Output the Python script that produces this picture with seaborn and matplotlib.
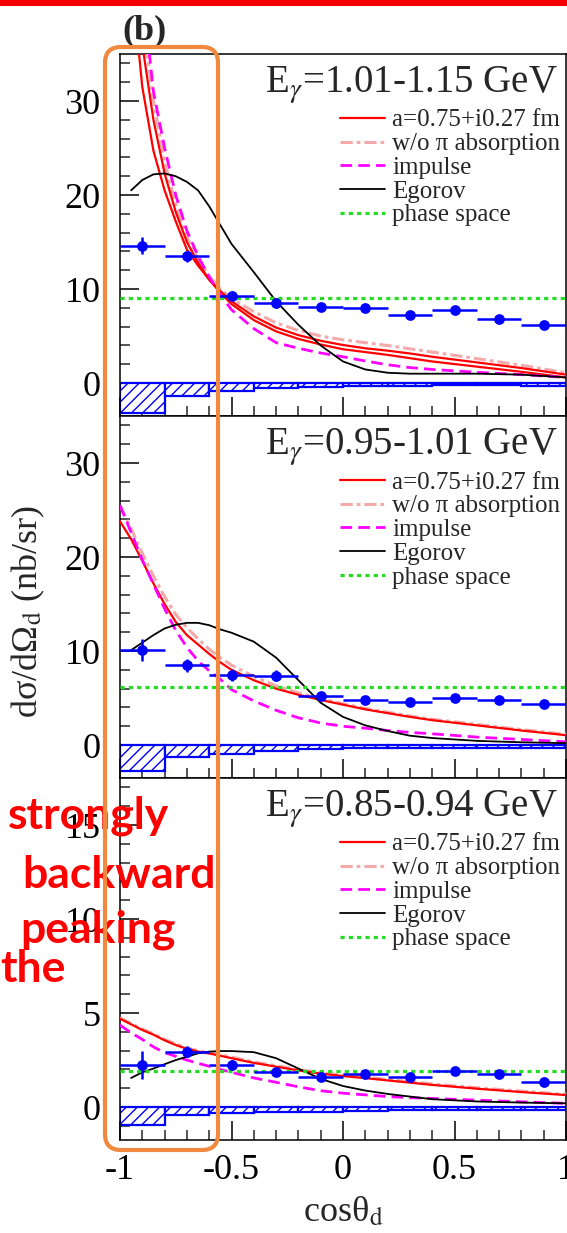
import numpy as np
import pandas as pd
import matplotlib
matplotlib.use("Agg")
import matplotlib.pyplot as plt
import seaborn as sns
from matplotlib.ticker import MultipleLocator
from matplotlib.patches import FancyBboxPatch, Rectangle
from matplotlib.transforms import IdentityTransform

# ---------------- data ----------------
bin_centers = [-0.9, -0.7, -0.5, -0.3, -0.1, 0.1, 0.3, 0.5, 0.7, 0.9]

pts_top = [14.6, 13.5, 9.3, 8.5, 8.1, 8.0, 7.2, 7.8, 6.8, 6.2]
err_top = [0.9, 0.6, 0.5, 0.5, 0.4, 0.4, 0.4, 0.4, 0.4, 0.4]
sys_top = [3.2, 1.4, 0.85, 0.55, 0.4, 0.3, 0.3, 0.25, 0.25, 0.3]

pts_mid = [10.1, 8.5, 7.45, 7.4, 5.25, 4.75, 4.6, 5.0, 4.8, 4.35]
err_mid = [1.2, 0.7, 0.6, 0.6, 0.4, 0.4, 0.4, 0.4, 0.4, 0.4]
sys_mid = [2.8, 1.25, 0.9, 0.6, 0.45, 0.3, 0.3, 0.3, 0.3, 0.3]

pts_bot = [2.23, 2.94, 2.23, 1.88, 1.61, 1.76, 1.58, 1.93, 1.76, 1.35]
err_bot = [0.75, 0.3, 0.25, 0.2, 0.2, 0.2, 0.2, 0.2, 0.2, 0.2]
sys_bot = [0.96, 0.43, 0.3, 0.27, 0.25, 0.2, 0.15, 0.15, 0.15, 0.15]

phase_space = [9.0, 6.2, 1.9]

xc = [-1, -0.95, -0.9, -0.85, -0.8, -0.75, -0.7, -0.65, -0.6, -0.55, -0.5,
      -0.4, -0.3, -0.2, -0.1, 0, 0.1, 0.2, 0.3, 0.4, 0.6, 0.8, 1.0]
xc_eg = xc[1:]

# top panel: E = 1.01-1.15 GeV
red_top = [70, 43.5, 31.5, 24.7, 20.5, 17.2, 14.2, 12.5, 11.0, 9.6, 8.4,
           6.7, 5.5, 4.7, 4.1, 3.6, 3.3, 3.0, 2.65, 2.3, 1.75, 1.2, 0.6]
red2_top = [80, 50, 36, 28, 22.3, 18.2, 15.0, 12.8, 11.0, 9.8, 8.7,
            7.1, 5.9, 5.1, 4.5, 4.05, 3.7, 3.45, 3.15, 2.8, 2.2, 1.6, 0.9]
pink_top = [90, 55, 39, 30, 23.5, 19.0, 15.5, 13.2, 11.4, 10.0, 9.0,
            7.6, 6.4, 5.6, 5.0, 4.6, 4.3, 4.0, 3.65, 3.3, 2.6, 1.9, 1.1]
mag_top = [100, 60, 42, 31, 25, 20, 16.2, 13.5, 11.3, 9.4, 7.8,
           5.8, 4.3, 3.7, 3.2, 2.8, 2.35, 1.95, 1.65, 1.45, 1.15, 0.9, 0.6]
ego_top = [20.5, 21.6, 22.2, 22.3, 22.0, 21.4, 20.5, 18.8, 16.8, 14.8,
           11.8, 8.7, 6.2, 4.0, 2.3, 1.45, 1.1, 1.0, 1.0, 1.0, 0.9, 0.6]

# middle panel: E = 0.95-1.01 GeV
red_mid = [23.8, 21.9, 19.6, 17.2, 15.0, 13.1, 11.7, 10.7, 9.7, 8.8, 8.0,
           6.9, 6.0, 5.35, 4.8, 4.3, 3.8, 3.4, 3.0, 2.65, 2.1, 1.55, 1.05]
pink_mid = [25.5, 23.0, 20.4, 18.0, 15.8, 13.9, 12.5, 11.3, 10.2, 9.3, 8.5,
            7.3, 6.3, 5.55, 4.95, 4.4, 3.9, 3.5, 3.1, 2.75, 2.2, 1.65, 1.15]
mag_mid = [25.5, 22.6, 19.7, 17.1, 14.5, 12.2, 10.4, 8.95, 7.9, 7.0, 5.9,
           4.7, 3.7, 2.9, 2.35, 2.0, 1.8, 1.55, 1.35, 1.2, 0.85, 0.6, 0.35]
ego_mid = [10.1, 10.9, 11.7, 12.4, 12.8, 13.0, 13.0, 12.75, 12.3, 11.95,
           11.0, 9.3, 6.9, 4.5, 3.0, 2.1, 1.5, 1.0, 0.75, 0.45, 0.3, 0.2]

# bottom panel: E = 0.85-0.94 GeV
red_bot = [4.7, 4.4, 4.1, 3.85, 3.55, 3.3, 3.1, 2.95, 2.85, 2.73, 2.6,
           2.35, 2.15, 1.95, 1.78, 1.65, 1.54, 1.42, 1.3, 1.18, 0.98, 0.8, 0.64]
pink_bot = [4.75, 4.45, 4.15, 3.9, 3.6, 3.36, 3.15, 3.0, 2.9, 2.78, 2.66,
            2.4, 2.2, 2.0, 1.83, 1.7, 1.59, 1.47, 1.35, 1.23, 1.03, 0.85, 0.68]
mag_bot = [4.36, 3.95, 3.6, 3.2, 2.9, 2.7, 2.5, 2.33, 2.17, 2.0, 1.85,
           1.55, 1.32, 1.08, 0.87, 0.74, 0.65, 0.56, 0.5, 0.46, 0.37, 0.28, 0.2]
ego_bot = [1.55, 1.85, 2.05, 2.28, 2.5, 2.68, 2.86, 2.95, 2.98, 2.98,
           2.92, 2.6, 2.05, 1.5, 1.12, 0.88, 0.7, 0.56, 0.42, 0.3, 0.24, 0.2]

titles = ["E$_{\\gamma}$=1.01-1.15 GeV", "E$_{\\gamma}$=0.95-1.01 GeV",
          "E$_{\\gamma}$=0.85-0.94 GeV"]
legend_labels = ["a=0.75+i0.27 fm", "w/o \u03c0 absorption", "impulse",
                 "Egorov", "phase space"]
x_ticks = [-1, -0.5, 0, 0.5, 1]
x_tick_labels = ["-1", "-0.5", "0", "0.5", "1"]
y_ticks_big = [0, 10, 20, 30]
y_ticks_small = [0, 5, 10, 15]
annot_words = ["strongly", "backward", "peaking", "the"]

# ---------------- style ----------------
sns.set_theme(style="white")
plt.rcParams["font.family"] = ["Liberation Serif", "DejaVu Serif"]
plt.rcParams["mathtext.fontset"] = "stix"
plt.rcParams["axes.unicode_minus"] = False

W, H = 567, 1233
fig = plt.figure(figsize=(W / 100, H / 100), dpi=100)
fig.patch.set_facecolor("white")

left = 120 / W
width = 446 / W
ph = 362 / H
bottoms = [1 - 416 / H, 1 - 778 / H, 1 - 1140 / H]

panels = [
    dict(pts=pts_top, err=err_top, sys=sys_top, red=red_top, pink=pink_top,
         mag=mag_top, ego=ego_top, ps=phase_space[0], ylim=(-3.5, 35),
         minor=2, yticks=y_ticks_big, red2=red2_top),
    dict(pts=pts_mid, err=err_mid, sys=sys_mid, red=red_mid, pink=pink_mid,
         mag=mag_mid, ego=ego_mid, ps=phase_space[1], ylim=(-3.5, 35),
         minor=2, yticks=y_ticks_big, red2=None),
    dict(pts=pts_bot, err=err_bot, sys=sys_bot, red=red_bot, pink=pink_bot,
         mag=mag_bot, ego=ego_bot, ps=phase_space[2], ylim=(-1.75, 17.5),
         minor=1, yticks=y_ticks_small, red2=None),
]

blue = "#0000FF"
for i, p in enumerate(panels):
    ax = fig.add_axes([left, bottoms[i], width, ph])
    ax.set_facecolor("white")

    # systematic error histogram (hatched, below zero)
    ax.bar(bin_centers, [-s for s in p["sys"]], width=0.2, bottom=0,
           facecolor="white", edgecolor=blue, hatch="///", linewidth=1.6,
           zorder=2)

    handles = []
    sns.lineplot(x=xc, y=p["red"], ax=ax, color="#FF0000",
                 linewidth=1.6, zorder=4)
    handles.append(ax.lines[-1])
    if p["red2"] is not None:
        sns.lineplot(x=xc, y=p["red2"], ax=ax, color="#FF0000",
                     linewidth=1.6, zorder=4)
    sns.lineplot(x=xc, y=p["pink"], ax=ax, color="#F4AAAA", linewidth=2.2,
                 linestyle=(0, (4, 1.3, 1.2, 1.3)), zorder=3)
    handles.append(ax.lines[-1])
    sns.lineplot(x=xc, y=p["mag"], ax=ax, color="#FF00FF", linewidth=2.0,
                 linestyle=(0, (4.2, 2.2)), zorder=4)
    handles.append(ax.lines[-1])
    sns.lineplot(x=xc_eg, y=p["ego"], ax=ax, color="black", linewidth=1.3,
                 zorder=4)
    handles.append(ax.lines[-1])
    sns.lineplot(x=[-1, 1], y=[p["ps"], p["ps"]], ax=ax, color="#22DD22",
                 linewidth=2.3, linestyle=(0, (1.3, 1.3)), zorder=5)
    handles.append(ax.lines[-1])

    # data points
    ax.errorbar(bin_centers, p["pts"], xerr=0.1, yerr=p["err"], fmt="none",
                ecolor=blue, elinewidth=1.8, capsize=0, zorder=6)
    sns.scatterplot(x=bin_centers, y=p["pts"], ax=ax, color=blue, s=60,
                    edgecolor=blue, linewidth=0, zorder=7)

    ax.set_xlim(-1, 1)
    ax.set_ylim(*p["ylim"])
    ax.set_xticks(x_ticks)
    ax.set_yticks(p["yticks"])
    ax.xaxis.set_minor_locator(MultipleLocator(0.1))
    ax.yaxis.set_minor_locator(MultipleLocator(p["minor"]))
    ax.tick_params(which="major", direction="in", length=14, width=1.1,
                   labelsize=26, colors="black", bottom=True, left=True,
                   top=False, right=False)
    ax.tick_params(axis="y", which="major", pad=14)
    ax.tick_params(axis="x", which="major", pad=10)
    ax.tick_params(which="minor", direction="in", length=7.5, width=1.1,
                   bottom=True, left=True, top=False, right=False)
    if i < 2:
        ax.set_xticklabels([])
    else:
        ax.set_xticklabels(x_tick_labels)
    for sp in ax.spines.values():
        sp.set_color("black")
        sp.set_linewidth(1.1)

    ax.text((558 - 120) / 446, 1 - 39 / 362, titles[i], transform=ax.transAxes,
            ha="right", va="baseline", fontsize=28)
    ax.legend(handles, legend_labels, loc="upper right",
              bbox_to_anchor=((558 - 120) / 446 + 0.005, 1 - 55 / 362),
              frameon=False, fontsize=18, labelspacing=0.05,
              handlelength=1.8, handletextpad=0.3, borderpad=0,
              borderaxespad=0)
    ax.set_xlabel("")
    ax.set_ylabel("")
    if i == 2:
        ax.set_xlabel("cos\u03b8$_{\\mathrm{d}}$", fontsize=26, labelpad=6)

# y label
fig.text(28 / W, 1 - 612 / H, "d\u03c3/d\u03a9$_{\\mathrm{d}}$ (nb/sr)",
         rotation=90, ha="center", va="center", fontsize=26)

# panel label
fig.text(144 / W, 1 - 31 / H, "(b)", ha="center", va="center", fontsize=26,
         fontweight="bold")

# red bar at the top
fig.add_artist(Rectangle((0, 1 - 6 / H), 1, 6 / H, transform=fig.transFigure,
                         facecolor="#F20000", edgecolor="none", zorder=10))

# annotation words
annot_pos = [(8, 828), (22, 888), (20, 942), (0, 982)]
for word, (px, py) in zip(annot_words, annot_pos):
    fig.text(px / W, 1 - py / H, word, ha="left", va="baseline",
             fontsize=32, fontweight="bold", color="#FF0000",
             family=["Lato", "DejaVu Sans"], zorder=20)

# orange rounded rectangle
fig.add_artist(FancyBboxPatch((105, H - 1150), 113, 1103,
                              boxstyle="round,pad=0,rounding_size=16",
                              transform=IdentityTransform(),
                              facecolor="none", edgecolor="#F0883E",
                              linewidth=3.0, zorder=30))

fig.savefig("out.png", dpi=100)
